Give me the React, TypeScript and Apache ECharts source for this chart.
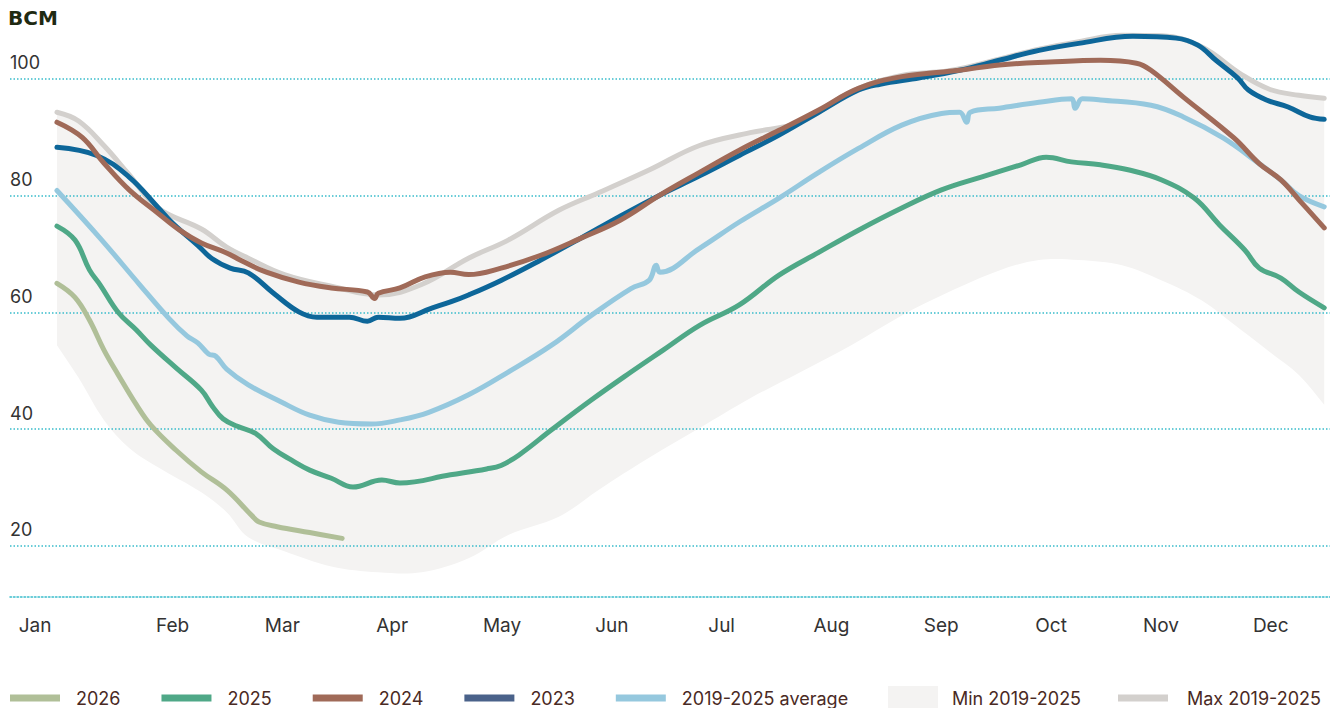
import React, { useEffect, useRef } from "react";
import * as echarts from "echarts";

// ---- Tick labels ----
const months = ["Jan", "Feb", "Mar", "Apr", "May", "Jun", "Jul", "Aug", "Sep", "Oct", "Nov", "Dec"];
const monthLen = 365 / 12;
const labelStart = 1.6;
const labelDays = months.map((_, i) => labelStart + i * monthLen);

// ---- Series data (x = day of the year, y = BCM) ----
const days2026 = [0, 5, 9, 13, 17, 22, 26, 33, 40, 47, 54, 56, 61, 70, 79];
const values2026 = [65, 62.6, 58.7, 53.6, 49.3, 44.2, 40.7, 36.4, 32.7, 29.6, 25.2, 24.1, 23.3, 22.3, 21.3];

const days2025 = [0, 5, 9, 12, 17, 22, 26, 33, 40, 43, 46, 50, 55, 60, 65, 70, 76, 82, 90, 95, 109, 119, 123, 128, 137, 148, 159, 168, 178, 189, 200, 211, 222, 234, 245, 256, 267, 274, 281, 289, 297, 306, 315, 322, 329, 333, 339, 344, 351];
const values2025 = [74.8, 72.4, 67.3, 64.7, 60, 57, 54.4, 50.5, 46.7, 44, 41.8, 40.5, 39.3, 36.6, 34.7, 33, 31.6, 30.1, 31.3, 30.8, 32.2, 33.2, 33.8, 35.6, 39.9, 45, 49.8, 53.6, 57.8, 61.3, 66.4, 70.3, 74.1, 77.9, 81, 83.2, 85.3, 86.6, 85.8, 85.3, 84.4, 82.7, 79.6, 75, 70.7, 67.6, 65.9, 63.5, 60.8];

const days2024 = [0, 7, 13, 20, 28, 34, 40, 47, 51, 58, 67, 76, 86, 88, 89, 95, 102, 109, 114, 123, 134, 145, 156, 167, 178, 189, 200, 211, 222, 234, 250, 261, 275, 289, 299, 303, 312, 326, 333, 339, 344, 351];
const values2024 = [92.6, 90, 85.6, 81, 77, 74.1, 71.9, 70.2, 68.9, 66.9, 65.2, 64.2, 63.5, 62.4, 63.3, 64.2, 66.1, 66.9, 66.5, 67.6, 69.8, 72.7, 75.8, 80.1, 84, 87.8, 91.2, 94.7, 98.4, 100.4, 101.5, 102.4, 102.9, 103.2, 102.7, 101.5, 96.9, 89.9, 85.5, 82.7, 79.3, 74.5];

const days2023 = [0, 11, 20, 28, 32, 39, 43, 48, 53, 60, 67, 72, 81, 86, 89, 95, 104, 109, 114, 123, 134, 145, 156, 167, 178, 189, 200, 211, 222, 228, 239, 250, 261, 272, 283, 298, 310, 316, 321, 327, 330, 335, 341, 347, 351];
const values2023 = [88.3, 86.9, 83.2, 78, 75.3, 71.5, 69.2, 67.6, 66.8, 63.3, 60.1, 59.2, 59.2, 58.5, 59.2, 59, 60.8, 61.8, 63, 65.5, 69, 72.7, 76.5, 80.1, 83.4, 86.9, 90.4, 94.3, 98.1, 99.1, 100.2, 101.5, 103.2, 104.9, 106.1, 107.3, 107, 105.8, 103.2, 100.2, 98.1, 96.4, 95.2, 93.5, 93.1];

const daysAvg = [0, 12, 23, 31, 36, 39, 42, 44, 47, 53, 62, 70, 78, 87, 95, 103, 114, 125, 137, 148, 159, 164, 166, 167, 178, 189, 200, 211, 222, 234, 245, 250, 252, 253, 261, 272, 281, 282, 284, 289, 303, 312, 323, 333, 339, 344, 351];
const valuesAvg = [80.9, 72.7, 64.7, 59, 56, 54.8, 52.9, 52.5, 50.3, 47.6, 44.7, 42.4, 41.2, 40.9, 41.6, 42.9, 45.9, 49.8, 54.4, 59.5, 64.1, 65.5, 68.1, 66.9, 71, 75.5, 79.6, 84, 88.1, 92.1, 94.1, 94.3, 92.6, 94.3, 95, 96, 96.6, 95, 96.6, 96.4, 95.5, 93.5, 89.9, 85.5, 82.7, 80, 78.1];

const bandDays = [0, 6, 13, 20, 28, 40, 47, 53, 63, 76, 89, 101, 114, 125, 139, 150, 164, 178, 192, 206, 220, 234, 247, 261, 272, 283, 295, 306, 317, 328, 336, 344, 351];
const maxValues = [94.3, 92.8, 88.6, 83.6, 77.9, 74.3, 71.2, 69.3, 66.5, 64.5, 63, 64.8, 69.3, 72.4, 77.5, 80.5, 84.4, 88.6, 90.8, 92.6, 97.8, 100.6, 101.4, 103.4, 105.1, 106.4, 107.5, 107.4, 105.5, 100.8, 98.2, 97.2, 96.7];
const minValues = [54.4, 48.8, 41.6, 36.8, 33.5, 29.2, 25.8, 21.5, 19.1, 16.5, 15.5, 15.5, 17.9, 21.9, 25, 29.6, 35.1, 40.2, 45.3, 49.8, 54.4, 59.5, 63.5, 67.2, 69, 69, 68.1, 65.5, 62.1, 57, 53.2, 49.3, 44.2];

const FONT = "Inter";
const BAND = "#f4f3f2";
const GRID_LINE = { color: "#38bccb", width: 1.5, type: [1.5, 2] as number[] };
const LEGEND_TEXT = { fontSize: 18, color: "#4a2a24", fontFamily: FONT, lineHeight: 20, padding: [0, 0, 0, 11] };

const pairs = (xs: number[], ys: number[]) => xs.map((x, i) => [x, ys[i]]);

function lineSeries(name: string, color: string, xs: number[], ys: number[]) {
  return {
    name,
    type: "line",
    color,
    data: pairs(xs, ys),
    smooth: 0.4,
    showSymbol: false,
    symbol: "none",
    lineStyle: { width: 5, color, cap: "round" },
  };
}

export default function App() {
  const ref = useRef<HTMLDivElement>(null);
  useEffect(() => {
    document.body.style.margin = "0";
    if (!ref.current) return;
    const chart = echarts.init(ref.current, null, { renderer: "svg" });
    const option: any = {
      animation: false,
      title: {
        text: "BCM",
        left: 8,
        top: 8,
        padding: 0,
        textStyle: { fontSize: 20, fontWeight: "bold", color: "#1f2a12", fontFamily: "DejaVu Sans" },
      },
      grid: { left: 10, right: 0, top: 20.6, bottom: 45.25, outerBoundsMode: "none" },
      xAxis: {
        type: "value",
        min: -13,
        max: 352.6,
        offset: -65.75,
        axisLine: { show: true, onZero: false, lineStyle: GRID_LINE },
        axisTick: { show: false },
        splitLine: { show: false },
        axisLabel: {
          customValues: labelDays,
          color: "#333333",
          fontSize: 19,
          fontFamily: FONT,
          margin: 19,
          formatter: (v: number) => {
            const i = Math.round((v - labelStart) / monthLen);
            return i === 0 ? `{jan|${months[0]}}` : months[i] ?? "";
          },
          rich: { jan: { width: 88, align: "left", fontSize: 19, color: "#333333", fontFamily: FONT } },
        },
      },
      yAxis: {
        type: "value",
        min: 0,
        max: 110,
        interval: 20,
        axisLine: { show: false },
        axisTick: { show: false },
        splitLine: { show: true, showMinLine: false, showMaxLine: false, lineStyle: GRID_LINE },
        axisLabel: {
          inside: true,
          margin: 0,
          verticalAlign: "bottom",
          padding: [0, 0, 7, 0],
          color: "#333333",
          fontSize: 18,
          fontFamily: FONT,
          formatter: (v: number) => (v === 0 || v > 100 ? "" : String(v)),
        },
      },
      legend: [
        {
          left: 10,
          top: 688,
          padding: 0,
          itemWidth: 50,
          itemHeight: 7,
          itemGap: 41,
          icon: "rect",
          selectedMode: false,
          itemStyle: { borderWidth: 0 },
          textStyle: LEGEND_TEXT,
          data: [
            { name: "2026" },
            { name: "2025" },
            { name: "2024" },
            { name: "2023", itemStyle: { color: "#4a628a" } },
            { name: "2019-2025 average" },
          ],
        },
        {
          left: 888,
          top: 686,
          padding: 0,
          itemWidth: 50,
          itemHeight: 24,
          icon: "rect",
          selectedMode: false,
          itemStyle: { borderWidth: 0 },
          textStyle: { ...LEGEND_TEXT, padding: [0, 0, 0, 9] },
          data: [{ name: "Min 2019-2025", itemStyle: { color: BAND } }],
        },
        {
          left: 1118,
          top: 688,
          padding: 0,
          itemWidth: 50,
          itemHeight: 7,
          icon: "rect",
          selectedMode: false,
          itemStyle: { borderWidth: 0 },
          textStyle: { ...LEGEND_TEXT, padding: [0, 0, 0, 14] },
          data: [{ name: "Max 2019-2025" }],
        },
      ],
      series: [
        {
          name: "Min 2019-2025",
          type: "custom",
          color: BAND,
          itemStyle: { color: BAND },
          z: -1,
          silent: true,
          data: [[bandDays[0], minValues[0]]],
          renderItem: (params: any, api: any) => {
            if (params.dataIndex !== 0) return null;
            const top = bandDays.map((d, i) => api.coord([d, maxValues[i]]));
            const bottom = bandDays.map((d, i) => api.coord([d, minValues[i]])).reverse();
            const n = top.length;
            const pts = [top[0], ...top, top[n - 1], bottom[0], ...bottom, bottom[n - 1]];
            return {
              type: "polygon",
              shape: { points: pts, smooth: 0.35 },
              style: { fill: BAND, stroke: "none" },
            };
          },
        },
        lineSeries("Max 2019-2025", "#d3d0cd", bandDays, maxValues),
        lineSeries("2019-2025 average", "#95c8de", daysAvg, valuesAvg),
        lineSeries("2023", "#0d6699", days2023, values2023),
        lineSeries("2024", "#a06a58", days2024, values2024),
        lineSeries("2025", "#4fa887", days2025, values2025),
        lineSeries("2026", "#b0bf98", days2026, values2026),
      ],
    };
    chart.setOption(option);
    return () => chart.dispose();
  }, []);
  return <div ref={ref} style={{ width: 1330, height: 708 }} />;
}
